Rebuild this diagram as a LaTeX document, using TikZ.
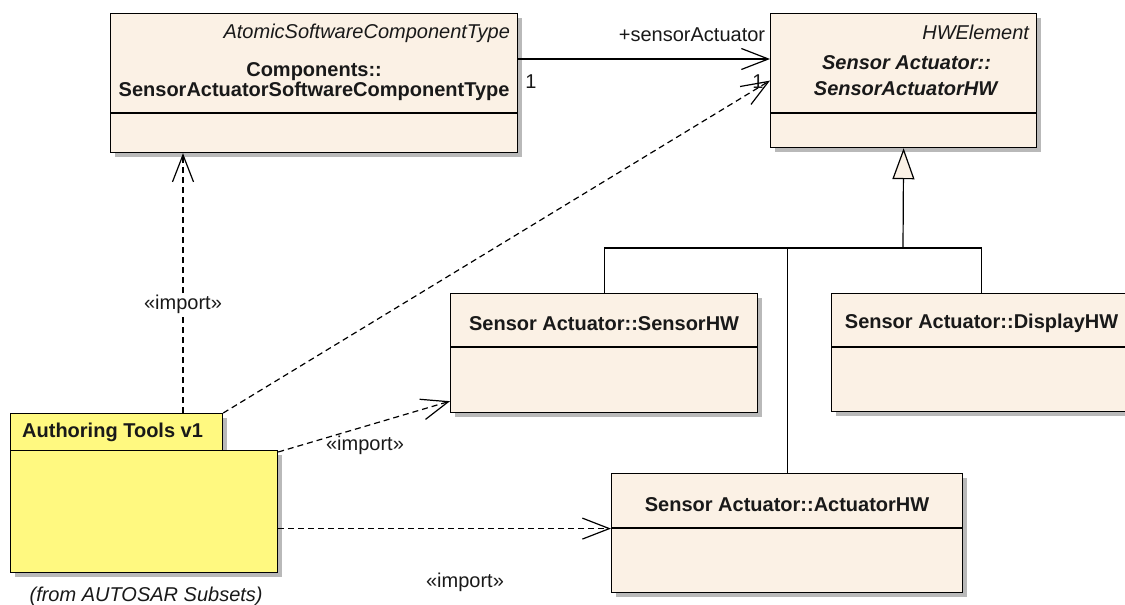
\documentclass[tikz,border=0pt]{standalone}
\usepackage{fontspec}
\setmainfont{Liberation Sans}
\usetikzlibrary{arrows.meta,shadows,calc}
\definecolor{classfill}{RGB}{251,241,229}
\definecolor{pkgfill}{RGB}{255,249,128}
\definecolor{shadowgray}{RGB}{185,185,185}
\definecolor{textcol}{RGB}{25,25,25}
\tikzset{
  box/.style={draw=black, line width=1.2pt, fill=classfill, anchor=north west, inner sep=0pt,
    drop shadow={shadow xshift=4pt, shadow yshift=-4pt, fill=shadowgray, opacity=1}},
  pkgbox/.style={box, fill=pkgfill},
  divider/.style={draw=black, line width=1.2pt},
  txt/.style={font=\fontsize{20}{23}\selectfont, text=textcol, inner sep=0pt},
  btxt/.style={font=\fontsize{20}{23}\selectfont\bfseries, text=textcol, inner sep=0pt},
  itxt/.style={font=\fontsize{20}{23}\selectfont\itshape, text=textcol, inner sep=0pt},
  bitxt/.style={font=\fontsize{20}{23}\selectfont\bfseries\itshape, text=textcol, inner sep=0pt},
  opentip/.style={-{Straight Barb[length=27pt,width=21pt]}},
  dep/.style={opentip, line width=1.2pt, dash pattern=on 6pt off 4pt},
  assoc/.style={opentip, line width=1.2pt},
  gen/.style={line width=1.2pt, -{Triangle[length=31pt,width=22pt,fill=classfill]}},
  tree/.style={line width=1.2pt},
}
\begin{document}
\begin{tikzpicture}[x=1pt,y=-1pt]
\useasboundingbox (0,0) rectangle (1125,605);
\clip (0,0) rectangle (1125,605);

% class boxes
\node[box, minimum width=407pt, minimum height=139pt] (A) at (110,13) {};
\draw[divider] ([yshift=-100pt]A.north west) -- ([yshift=-100pt]A.north east);
\node[itxt, anchor=east] (Astereo) at ([xshift=-8pt,yshift=-20pt]A.north east) {AtomicSoftwareComponentType};
\node[btxt] (Aname1) at ([yshift=-59pt]A.north) {Components::};
\node[btxt] (Aname2) at ([yshift=-78pt]A.north) {SensorActuatorSoftwareComponentType};

\node[box, minimum width=266pt, minimum height=134pt] (H) at (770,13) {};
\draw[divider] ([yshift=-100pt]H.north west) -- ([yshift=-100pt]H.north east);
\node[itxt, anchor=east] (Hstereo) at ([xshift=-8pt,yshift=-19pt]H.north east) {HWElement};
\node[bitxt] (Hname1) at ([xshift=3pt,yshift=-50pt]H.north) {Sensor Actuator::};
\node[bitxt] (Hname2) at ([xshift=2pt,yshift=-76pt]H.north) {SensorActuatorHW};

\node[box, minimum width=307pt, minimum height=119pt] (S) at (450,293) {};
\draw[divider] ([yshift=-54pt]S.north west) -- ([yshift=-54pt]S.north east);
\node[btxt] (Sname) at ([yshift=-31pt]S.north) {Sensor Actuator::SensorHW};

\node[box, minimum width=300pt, minimum height=118pt] (D) at (831,293) {};
\draw[divider] ([yshift=-54pt]D.north west) -- ([yshift=-54pt]D.north east);
\node[btxt] (Dname) at ([yshift=-30pt]D.north) {Sensor Actuator::DisplayHW};

\node[box, minimum width=351pt, minimum height=119pt] (Act) at (611,473) {};
\draw[divider] ([yshift=-55pt]Act.north west) -- ([yshift=-55pt]Act.north east);
\node[btxt] (Actname) at ([yshift=-32pt]Act.north) {Sensor Actuator::ActuatorHW};

% package
\node[pkgbox, minimum width=212pt, minimum height=37pt] (tab) at (10,413) {};
\node[pkgbox, minimum width=267pt, minimum height=122pt] (body) at (10,450) {};
\node[btxt, anchor=west] (pkgname) at ([xshift=12pt,yshift=-19pt]tab.north west) {Authoring Tools v1};
\node[itxt] (pkgfrom) at ([xshift=2pt,yshift=-23pt]body.south) {(from AUTOSAR Subsets)};

% generalization tree
\coordinate (gj) at (903,248);
\draw[gen] (gj) -- (H.south);
\draw[tree] (S.north) |- (gj) -| (D.north);
\draw[tree] (Act.north) -- (Act.north |- gj);

% association
\coordinate (asA) at ([yshift=-46pt]A.north east);
\draw[assoc] (asA) -- (H.west |- asA);
\node[txt] (role) at (692,35) {+sensorActuator};
\node[txt] (m1) at (531,82) {1};
\node[txt] (m2) at (758,82) {1};

% dependencies
\draw[dep] ([xshift=173pt]tab.north west) -- ([xshift=73pt]A.south west);
\node[txt, fill=white, inner sep=1pt] (imp1) at (183,304) {«import»};

\draw[dep] (tab.north east) -- (H.west);

\coordinate (sin) at ([yshift=12pt]S.south west);
\draw[dep] ([yshift=-2pt]body.north east) -- (sin);
\node[txt] (imp2) at (365,445) {«import»};

\coordinate (actin) at ([yshift=4.5pt]Act.west);
\draw[dep] (body.east |- actin) -- (actin);
\node[txt] (imp3) at (465,582) {«import»};
\end{tikzpicture}
\end{document}
